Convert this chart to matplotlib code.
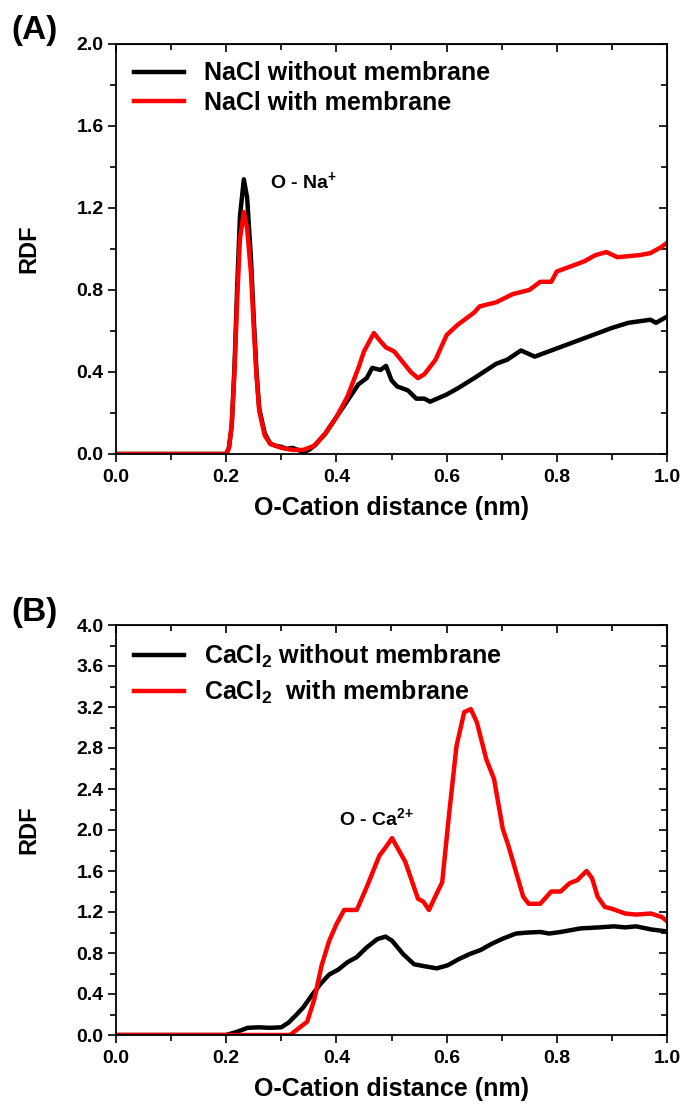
import numpy as np
import matplotlib.pyplot as plt
from matplotlib.ticker import MultipleLocator

plt.rcParams['font.family'] = ['Liberation Sans', 'DejaVu Sans']
plt.rcParams['font.weight'] = 'bold'
plt.rcParams['mathtext.fontset'] = 'custom'
plt.rcParams['mathtext.bf'] = 'Liberation Sans:bold'
plt.rcParams['mathtext.rm'] = 'Liberation Sans:bold'
plt.rcParams['mathtext.default'] = 'bf'

# (A) NaCl, O-Na+ RDF
nacl_free_x = [0.0, 0.2, 0.205, 0.21, 0.215, 0.22, 0.225, 0.232, 0.238, 0.245, 0.25,
               0.255, 0.26, 0.27, 0.28, 0.29, 0.30, 0.31, 0.32, 0.33, 0.34, 0.35,
               0.36, 0.37, 0.38, 0.39, 0.40, 0.42, 0.44, 0.455, 0.465, 0.48, 0.49,
               0.50, 0.51, 0.53, 0.545, 0.56, 0.57, 0.60, 0.62, 0.65, 0.69, 0.71,
               0.735, 0.76, 0.80, 0.85, 0.90, 0.93, 0.97, 0.98, 1.0]
nacl_free_y = [0.0, 0.0, 0.03, 0.14, 0.42, 0.82, 1.16, 1.34, 1.25, 0.95, 0.66,
               0.40, 0.22, 0.10, 0.05, 0.04, 0.035, 0.025, 0.03, 0.02, 0.01, 0.02,
               0.04, 0.07, 0.10, 0.14, 0.18, 0.26, 0.34, 0.37, 0.42, 0.41, 0.43,
               0.36, 0.33, 0.31, 0.27, 0.27, 0.255, 0.29, 0.32, 0.37, 0.44, 0.46,
               0.505, 0.475, 0.515, 0.565, 0.615, 0.64, 0.655, 0.64, 0.67]

nacl_mem_x = [0.0, 0.2, 0.205, 0.21, 0.215, 0.22, 0.225, 0.232, 0.238, 0.245, 0.25,
              0.255, 0.26, 0.27, 0.28, 0.30, 0.32, 0.34, 0.36, 0.38, 0.40, 0.42,
              0.44, 0.45, 0.468, 0.48, 0.49, 0.505, 0.52, 0.535, 0.548, 0.56, 0.58,
              0.60, 0.62, 0.65, 0.66, 0.69, 0.72, 0.75, 0.77, 0.79, 0.80, 0.83,
              0.85, 0.87, 0.89, 0.91, 0.93, 0.95, 0.97, 0.99, 1.0]
nacl_mem_y = [0.0, 0.0, 0.03, 0.14, 0.40, 0.76, 1.05, 1.18, 1.10, 0.88, 0.62,
              0.38, 0.21, 0.09, 0.05, 0.03, 0.02, 0.02, 0.04, 0.10, 0.18, 0.28,
              0.42, 0.50, 0.59, 0.55, 0.52, 0.50, 0.45, 0.40, 0.37, 0.39, 0.46,
              0.58, 0.63, 0.69, 0.72, 0.74, 0.78, 0.80, 0.84, 0.84, 0.89, 0.92,
              0.94, 0.97, 0.985, 0.96, 0.965, 0.97, 0.98, 1.01, 1.03]

# (B) CaCl2, O-Ca2+ RDF
cacl_free_x = [0.0, 0.2, 0.219, 0.239, 0.259, 0.279, 0.30, 0.313, 0.326, 0.34, 0.357,
               0.373, 0.387, 0.404, 0.42, 0.437, 0.454, 0.474, 0.489, 0.501, 0.521,
               0.541, 0.561, 0.582, 0.602, 0.622, 0.642, 0.662, 0.682, 0.702, 0.726,
               0.749, 0.77, 0.786, 0.807, 0.843, 0.877, 0.904, 0.924, 0.944, 0.971, 1.0]
cacl_free_y = [0.0, 0.0, 0.03, 0.07, 0.075, 0.07, 0.075, 0.12, 0.19, 0.27, 0.40,
               0.51, 0.59, 0.64, 0.71, 0.76, 0.85, 0.935, 0.96, 0.92, 0.79,
               0.69, 0.67, 0.65, 0.68, 0.74, 0.79, 0.83, 0.89, 0.94, 0.99,
               1.0, 1.005, 0.99, 1.005, 1.04, 1.05, 1.06, 1.05, 1.06, 1.03, 1.01]

cacl_mem_x = [0.0, 0.316, 0.347, 0.36, 0.373, 0.387, 0.40, 0.414, 0.437, 0.454, 0.478,
              0.488, 0.501, 0.525, 0.548, 0.558, 0.568, 0.582, 0.592, 0.605, 0.618,
              0.632, 0.644, 0.655, 0.672, 0.686, 0.702, 0.712, 0.726, 0.739, 0.749,
              0.77, 0.79, 0.807, 0.823, 0.837, 0.854, 0.864, 0.874, 0.887, 0.901,
              0.924, 0.944, 0.971, 0.991, 1.0]
cacl_mem_y = [0.0, 0.0, 0.13, 0.35, 0.675, 0.92, 1.08, 1.22, 1.22, 1.43, 1.75,
              1.82, 1.92, 1.69, 1.33, 1.30, 1.22, 1.38, 1.49, 2.18, 2.82,
              3.15, 3.18, 3.05, 2.69, 2.50, 2.01, 1.85, 1.59, 1.35, 1.28,
              1.28, 1.40, 1.40, 1.48, 1.51, 1.60, 1.53, 1.35, 1.25, 1.23,
              1.185, 1.175, 1.185, 1.15, 1.11]

fig = plt.figure(figsize=(6.85, 11.11), dpi=100)
W, H = 685, 1111


def make_axes(left, top, right, bottom):
    return fig.add_axes([left / W, 1 - bottom / H, (right - left) / W, (bottom - top) / H])


def style_axes(ax, ymax, ymajor, yminor):
    ax.set_xlim(0, 1.0)
    ax.set_ylim(0, ymax)
    ax.xaxis.set_major_locator(MultipleLocator(0.2))
    ax.xaxis.set_minor_locator(MultipleLocator(0.1))
    ax.yaxis.set_major_locator(MultipleLocator(ymajor))
    ax.yaxis.set_minor_locator(MultipleLocator(yminor))
    ax.tick_params(which='major', direction='out', length=6, width=1.2, labelsize=14, pad=3)
    ax.tick_params(axis='x', which='major', pad=5)
    ax.tick_params(which='minor', direction='out', length=4, width=1.2)
    for s in ax.spines.values():
        s.set_linewidth(1.3)
    for lab in ax.get_xticklabels() + ax.get_yticklabels():
        lab.set_fontweight('bold')
    # inward ticks on top and right
    top = ax.secondary_xaxis('top')
    top.xaxis.set_major_locator(MultipleLocator(0.2))
    top.xaxis.set_minor_locator(MultipleLocator(0.1))
    top.tick_params(which='major', direction='in', length=6, width=1.2, labeltop=False)
    top.tick_params(which='minor', direction='in', length=4, width=1.2)
    right = ax.secondary_yaxis('right')
    right.yaxis.set_major_locator(MultipleLocator(ymajor))
    right.yaxis.set_minor_locator(MultipleLocator(yminor))
    right.tick_params(which='major', direction='in', length=6, width=1.2, labelright=False)
    right.tick_params(which='minor', direction='in', length=4, width=1.2)
    ax.set_xlabel('O-Cation distance (nm)', fontsize=18, fontweight='bold', labelpad=7)
    ax.set_ylabel('RDF', fontsize=17, fontweight='bold', labelpad=26)


ax1 = make_axes(116, 44, 667, 454)
ax1.plot(nacl_free_x, nacl_free_y, color='black', lw=3.2, label='NaCl without membrane')
ax1.plot(nacl_mem_x, nacl_mem_y, color='#ff0000', lw=3.2, label='NaCl with membrane')
style_axes(ax1, 2.0, 0.4, 0.2)
ax1.text(0.28, 1.33, 'O - Na$^{+}$', fontsize=14, fontweight='bold', va='center')
ax1.legend(loc='upper left', frameon=False, fontsize=18, handlelength=2.0,
           handletextpad=0.8, borderaxespad=0.3, labelspacing=0.2)

ax2 = make_axes(116, 625, 667, 1035)
ax2.plot(cacl_free_x, cacl_free_y, color='black', lw=3.2, label='CaCl$_2$ without membrane')
ax2.plot(cacl_mem_x, cacl_mem_y, color='#ff0000', lw=3.2, label='CaCl$_2$  with membrane')
style_axes(ax2, 4.0, 0.4, 0.2)
ax2.text(0.404, 2.12, 'O - Ca$^{2{+}}$', fontsize=14, fontweight='bold', va='center')
ax2.legend(loc='upper left', frameon=False, fontsize=18, handlelength=2.0,
           handletextpad=0.8, borderaxespad=0.3, labelspacing=0.35)

fig.text(11 / W, 1 - 30 / H, '(A)', fontsize=24, fontweight='bold', va='center')
fig.text(11 / W, 1 - 612 / H, '(B)', fontsize=24, fontweight='bold', va='center')

fig.savefig('out.png', dpi=100)
